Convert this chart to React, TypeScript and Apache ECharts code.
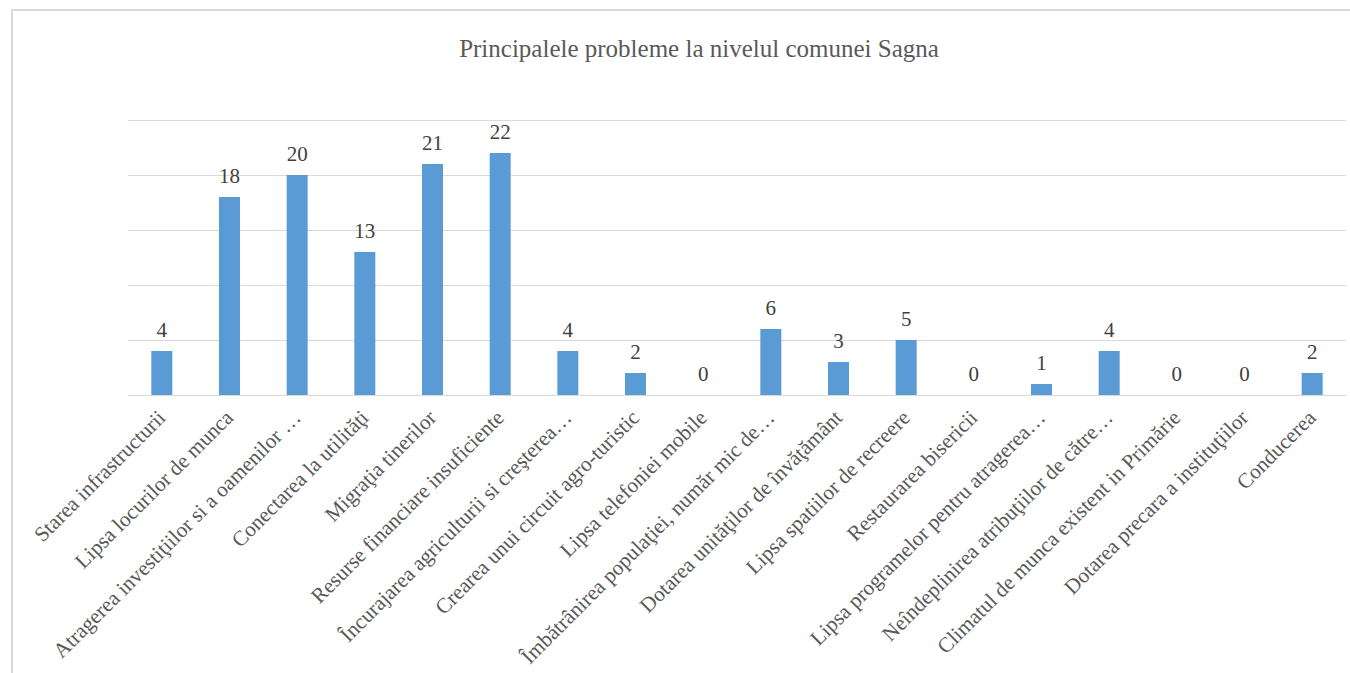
import React, { useEffect, useRef } from "react";
import * as echarts from "echarts";

const titleText = "Principalele probleme la nivelul comunei Sagna";

const categories = [
  "Starea infrastructurii",
  "Lipsa locurilor de munca",
  "Atragerea investiţiilor si a oamenilor …",
  "Conectarea la utilităţi",
  "Migraţia tinerilor",
  "Resurse financiare insuficiente",
  "Încurajarea agriculturii si creşterea…",
  "Crearea unui circuit agro-turistic",
  "Lipsa telefoniei mobile",
  "Îmbătrânirea populaţiei, număr mic de…",
  "Dotarea unităţilor de învăţământ",
  "Lipsa spatiilor de recreere",
  "Restaurarea bisericii",
  "Lipsa programelor pentru atragerea…",
  "Neîndeplinirea atribuţiilor de către…",
  "Climatul de munca existent in Primărie",
  "Dotarea precara a instituţiilor",
  "Conducerea",
];

const values = [4, 18, 20, 13, 21, 22, 4, 2, 0, 6, 3, 5, 0, 1, 4, 0, 0, 2];

const yMin = 0;
const yMax = 25;
const yInterval = 5;

const FONT = "'Liberation Serif', 'Times New Roman', serif";

export default function App() {
  const ref = useRef<HTMLDivElement>(null);

  useEffect(() => {
    document.body.style.margin = "0";
    if (!ref.current) return;
    const chart = echarts.init(ref.current, undefined, { renderer: "svg" });
    chart.setOption({
      animation: false,
      backgroundColor: "transparent",
      title: {
        text: titleText,
        left: 694,
        textAlign: "center",
        top: 31,
        textStyle: {
          fontFamily: FONT,
          fontSize: 25,
          fontWeight: "normal",
          color: "#595959",
        },
      },
      grid: {
        left: 128,
        right: 4,
        top: 120,
        bottom: 278,
        containLabel: false,
        outerBoundsMode: "none",
      },
      xAxis: {
        type: "category",
        data: categories,
        axisLine: { lineStyle: { color: "#D9D9D9", width: 1 } },
        axisTick: { show: false },
        axisLabel: {
          interval: 0,
          rotate: 45,
          fontFamily: FONT,
          fontSize: 21.3,
          color: "#595959",
          margin: 19,
        },
      },
      yAxis: {
        type: "value",
        min: yMin,
        max: yMax,
        interval: yInterval,
        axisLine: { show: false },
        axisTick: { show: false },
        axisLabel: { show: false },
        splitLine: { lineStyle: { color: "#D9D9D9", width: 1 } },
      },
      series: [
        {
          type: "bar",
          data: values,
          barWidth: 21,
          itemStyle: { color: "#5B9BD5" },
          label: {
            show: true,
            position: "top",
            distance: 11,
            fontFamily: FONT,
            fontSize: 21,
            color: "#404040",
          },
        },
      ],
    });
    return () => chart.dispose();
  }, []);

  return (
    <div style={{ position: "relative", width: 1350, height: 673, overflow: "hidden" }}>
      <div
        style={{
          position: "absolute",
          left: 11,
          top: 9,
          width: 1345,
          height: 700,
          border: "2px solid #D9D9D9",
          boxSizing: "border-box",
        }}
      />
      <div ref={ref} style={{ position: "absolute", left: 0, top: 0, width: 1350, height: 673 }} />
    </div>
  );
}
